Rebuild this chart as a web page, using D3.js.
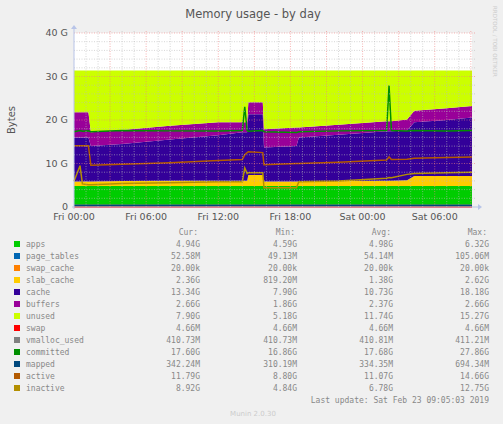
<!DOCTYPE html>
<html><head><meta charset="utf-8">
<script src="https://cdn.jsdelivr.net/npm/d3@7"></script>
<style>body{margin:0;background:#f0f0f0}</style>
</head><body><svg id="c"></svg>
<script>
// hours since Fri 00:00
var hours = [0,0.5,0.7,1.2,1.4,4,8,12,14.0,14.2,14.4,14.5,15.7,15.8,18.5,18.7,22,26.0,26.2,26.4,27.7,28.3,31,33.1];
// stacked series (GB)
var apps = hours.map(() => 4.8);
var pageTables = hours.map(() => 0.05);
var swapCache = hours.map(() => 0.00002);
var slabCache = [1.0,1.0,1.0,1.0,1.0,1.1,1.2,1.2,1.2,1.2,1.2,2.5,2.5,1.0,1.0,1.0,1.1,1.2,1.2,1.2,1.3,2.3,2.3,2.3];
var cache = [10.15,10.15,10.15,10.15,8.15,8.55,9.45,10.45,11.15,11.15,11.15,13.95,13.95,7.85,8.15,10.15,10.65,11.35,11.35,11.35,11.45,12.35,12.85,13.45];
var buffers = [5.8,5.8,5.8,5.8,3.2,3.2,3.2,3.0,2.3,2.3,2.3,2.8,2.8,4.2,4.3,2.3,2.3,2.3,2.3,2.3,2.5,2.6,2.7,2.6];
var unused = [9.6,9.6,9.6,9.6,14.2,13.7,12.7,11.9,11.9,11.9,11.9,7.3,7.3,13.5,13.1,13.1,12.5,11.7,11.7,11.7,11.3,9.3,8.7,8.2];
// line series (GB)
var swap = hours.map(() => 0.005);
var vmallocUsed = hours.map(() => 0.41);
var committed = [17.3,17.6,17.4,17.5,17.3,17.6,17.5,17.5,17.6,23.0,17.6,17.4,17.6,17.3,17.1,17.3,17.5,17.6,27.9,17.6,17.5,17.6,17.5,17.6];
var mapped = hours.map(() => 0.34);
var active = [14.1,14.1,14.1,14.1,9.6,9.8,10.2,10.7,10.9,12.0,12.5,12.7,12.5,9.7,10.0,10.0,10.3,10.8,11.5,10.9,11.0,11.2,11.4,11.5];
var inactive = [5.9,9.5,5.3,5.1,5.1,5.4,5.6,5.8,5.8,9.0,7.7,7.9,7.9,4.4,4.4,5.8,6.0,6.6,6.8,6.7,7.5,7.7,7.9,8.0];

var yTicks = [0,10,20,30,40];
var yTickLabels = ['0','10 G','20 G','30 G','40 G'];
var xTicks = [0,6,12,18,24,30];
var xTickLabels = ['Fri 00:00','Fri 06:00','Fri 12:00','Fri 18:00','Sat 00:00','Sat 06:00'];

var legendNames = ['apps','page_tables','swap_cache','slab_cache','cache','buffers','unused','swap','vmalloc_used','committed','mapped','active','inactive'];
var legendColors = ['#00cc00','#0066b3','#ff8000','#ffcc00','#330099','#990099','#ccff00','#ff0000','#808080','#008f00','#00487d','#b35a00','#b38f00'];
var curVals = ['4.94G','52.58M','20.00k','2.36G','13.34G','2.66G','7.90G','4.66M','410.73M','17.60G','342.24M','11.79G','8.92G'];
var minVals = ['4.59G','49.13M','20.00k','819.20M','7.90G','1.86G','5.18G','4.66M','410.73M','16.86G','310.19M','8.80G','4.84G'];
var avgVals = ['4.98G','54.14M','20.00k','1.38G','10.73G','2.37G','11.74G','4.66M','410.81M','17.68G','334.35M','11.07G','6.78G'];
var maxVals = ['6.32G','105.06M','20.00k','2.62G','18.18G','2.66G','15.27G','4.66M','411.21M','27.86G','694.34M','14.66G','12.75G'];

var svg = d3.select('#c').attr('width',503).attr('height',424);
var x = d3.scaleLinear().domain([0,33.1]).range([74,472]);
var y = d3.scaleLinear().domain([0,40]).range([207,33]);

svg.append('rect').attr('x',74).attr('y',33).attr('width',398).attr('height',174).attr('fill','#fff');

// stack
var layers = [apps,pageTables,swapCache,slabCache,cache,buffers,unused];
var rows = hours.map((h,i) => { var r = {h:h}; layers.forEach((s,k) => r['s'+k] = s[i]); return r; });
var stack = d3.stack().keys(layers.map((s,k) => 's'+k))(rows);
var area = d3.area().x(d => x(d.data.h)).y0(d => y(d[0])).y1(d => y(d[1]));
svg.selectAll('path.layer').data(stack).enter().append('path')
  .attr('d', area).attr('fill', (d,k) => legendColors[k]);

var lines = [[swap,7],[vmallocUsed,8],[committed,9],[mapped,10],[active,11],[inactive,12]];
var line = d3.line().x((d,i) => x(hours[i])).y(d => y(d));
lines.forEach(l => {
  svg.append('path').attr('d', line(l[0])).attr('fill','none')
    .attr('stroke', legendColors[l[1]]).attr('stroke-width',1.5);
});

// grid on top
d3.range(1,34).forEach(h => {
  svg.append('line').attr('x1',x(h)).attr('x2',x(h)).attr('y1',31).attr('y2',207)
    .attr('stroke', h % 3 == 0 ? '#f08080' : '#bbb').attr('stroke-dasharray','1,1.5').attr('stroke-width',0.6);
});
d3.range(2,41,2).forEach(v => {
  svg.append('line').attr('x1',74).attr('x2',475).attr('y1',y(v)).attr('y2',y(v))
    .attr('stroke', v % 10 == 0 ? '#f08080' : '#bbb').attr('stroke-dasharray','1,1.5').attr('stroke-width',0.6);
});

// axes
var axCol = '#b8c4e8';
svg.append('line').attr('x1',72).attr('x2',478).attr('y1',207).attr('y2',207).attr('stroke',axCol);
svg.append('path').attr('d','M478,204L482,207L478,210Z').attr('fill',axCol);
svg.append('line').attr('x1',74).attr('x2',74).attr('y1',209).attr('y2',29).attr('stroke',axCol);
svg.append('path').attr('d','M71,29L74,25L77,29Z').attr('fill',axCol);

var font = 'DejaVu Sans';
yTicks.forEach((v,i) => {
  svg.append('text').attr('x',68).attr('y',y(v)+3).attr('text-anchor','end')
    .attr('font-family',font).attr('font-size',9.5).attr('fill','#555').text(yTickLabels[i]);
});
xTicks.forEach((h,i) => {
  svg.append('text').attr('x',x(h)).attr('y',220).attr('text-anchor','middle')
    .attr('font-family',font).attr('font-size',9.5).attr('fill','#555').text(xTickLabels[i]);
});

svg.append('text').attr('x',253).attr('y',18).attr('text-anchor','middle')
  .attr('font-family',font).attr('font-size',11.5).attr('fill','#555').text('Memory usage - by day');
svg.append('text').attr('transform','translate(15,120) rotate(-90)').attr('text-anchor','middle')
  .attr('font-family',font).attr('font-size',10).attr('fill','#555').text('Bytes');
svg.append('text').attr('transform','translate(493,6) rotate(90)')
  .attr('font-family',font).attr('font-size',5.5).attr('fill','#ccc').text('RRDTOOL / TOBI OETIKER');

// legend
var mono = 'DejaVu Sans Mono';
var colX = [200,297,393,489];
['Cur:','Min:','Avg:','Max:'].forEach((t,i) => {
  svg.append('text').attr('x',colX[i]-2).attr('y',235).attr('text-anchor','end')
    .attr('font-family',mono).attr('font-size',8).attr('fill','#888').text(t);
});
legendNames.forEach((n,i) => {
  var yy = 247 + i*12;
  svg.append('rect').attr('x',14).attr('y',yy-6).attr('width',6).attr('height',6).attr('fill',legendColors[i]);
  svg.append('text').attr('x',26).attr('y',yy).attr('font-family',mono).attr('font-size',8).attr('fill','#888').text(n);
  [curVals,minVals,avgVals,maxVals].forEach((arr,k) => {
    svg.append('text').attr('x',colX[k]).attr('y',yy).attr('text-anchor','end')
      .attr('font-family',mono).attr('font-size',8).attr('fill','#888').text(arr[i]);
  });
});
svg.append('text').attr('x',489).attr('y',403).attr('text-anchor','end')
  .attr('font-family',mono).attr('font-size',8).attr('fill','#888').text('Last update: Sat Feb 23 09:05:03 2019');
svg.append('text').attr('x',253).attr('y',416).attr('text-anchor','middle')
  .attr('font-family',font).attr('font-size',7).attr('fill','#ccc').text('Munin 2.0.30');
</script></body></html>
